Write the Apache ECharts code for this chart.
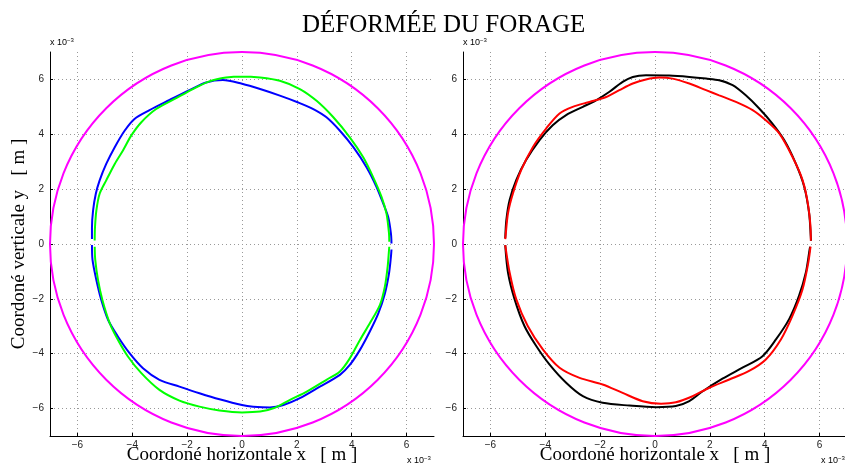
<!DOCTYPE html>
<html>
<head>
<meta charset="utf-8">
<script src="https://cdn.jsdelivr.net/npm/echarts@6/dist/echarts.min.js"></script>
<style>
  html, body { margin: 0; padding: 0; background: #fff; }
  #chart { width: 845px; height: 468px; }
</style>
</head>
<body>
<div id="chart"></div>
<script>
// values are in units of 1e-3 m
const tickValues = [-6, -4, -2, 0, 2, 4, 6]
const boreRadius = 7

// left panel
const blueUpper = [
  [5.45, 0.02], [5.43, 0.38], [5.33, 0.98], [5.15, 1.47], [4.91, 2.07], [4.54, 2.8],
  [4.06, 3.53], [3.57, 4.13], [3.08, 4.62], [2.6, 4.92], [2.05, 5.16], [1.38, 5.41],
  [0.66, 5.65], [0.0, 5.84], [-0.7, 5.98], [-1.31, 5.89], [-1.92, 5.61], [-2.64, 5.25],
  [-3.37, 4.88], [-3.92, 4.56], [-4.28, 4.13], [-4.64, 3.53], [-4.95, 2.92], [-5.19, 2.32],
  [-5.33, 1.83], [-5.43, 1.22], [-5.47, 0.6], [-5.47, 0.18]
]
const blueLower = [
  [-5.47, -0.04], [-5.45, -0.58], [-5.31, -1.31], [-5.13, -2.04], [-4.88, -2.77], [-4.52, -3.38],
  [-4.1, -3.98], [-3.61, -4.53], [-3.01, -4.95], [-2.28, -5.2], [-1.55, -5.44], [-0.82, -5.66],
  [0.0, -5.87], [0.41, -5.93], [1.02, -5.96], [1.51, -5.87], [2.11, -5.62], [2.84, -5.2],
  [3.57, -4.77], [3.93, -4.41], [4.3, -3.86], [4.66, -3.19], [4.97, -2.53], [5.21, -1.8],
  [5.36, -1.07], [5.43, -0.46], [5.45, -0.2]
]
const greenUpper = [
  [5.37, 0.08], [5.36, 0.38], [5.27, 1.1], [5.09, 1.71], [4.78, 2.44], [4.42, 3.16],
  [3.93, 3.89], [3.33, 4.62], [2.72, 5.22], [2.11, 5.65], [1.38, 5.95], [0.66, 6.07],
  [0.0, 6.11], [-0.58, 6.07], [-1.19, 5.93], [-1.79, 5.65], [-2.4, 5.32], [-3.13, 4.92],
  [-3.67, 4.44], [-4.04, 3.95], [-4.34, 3.41], [-4.64, 2.92], [-4.95, 2.32], [-5.19, 1.83],
  [-5.31, 1.22], [-5.36, 0.6], [-5.37, 0.13]
]
const greenLower = [
  [-5.37, -0.1], [-5.35, -0.58], [-5.25, -1.31], [-5.09, -2.04], [-4.82, -2.89], [-4.52, -3.5],
  [-4.16, -4.1], [-3.67, -4.71], [-3.01, -5.32], [-2.28, -5.71], [-1.55, -5.93], [-0.82, -6.07],
  [0.0, -6.14], [0.66, -6.11], [1.14, -5.99], [1.75, -5.68], [2.36, -5.38], [3.08, -4.95],
  [3.57, -4.65], [3.93, -4.17], [4.3, -3.5], [4.66, -2.89], [5.03, -2.22], [5.21, -1.55],
  [5.31, -0.83], [5.36, -0.22], [5.37, -0.1]
]

// right panel
const blackUpper = [
  [5.69, 0.12], [5.68, 0.27], [5.62, 1.12], [5.44, 2.09], [5.13, 2.94], [4.71, 3.79],
  [4.28, 4.39], [3.8, 4.94], [3.31, 5.42], [2.83, 5.79], [2.34, 5.97], [1.86, 6.03],
  [1.25, 6.09], [0.52, 6.14], [-0.33, 6.15], [-0.81, 6.09], [-1.18, 5.91], [-1.66, 5.55],
  [-2.15, 5.24], [-2.63, 5.0], [-3.24, 4.7], [-3.73, 4.33], [-4.21, 3.79], [-4.7, 3.06],
  [-5.06, 2.33], [-5.3, 1.6], [-5.42, 0.87], [-5.46, 0.21]
]
const blackLower = [
  [-5.46, -0.04], [-5.36, -1.04], [-5.12, -2.01], [-4.76, -2.99], [-4.33, -3.72], [-3.85, -4.39],
  [-3.24, -5.06], [-2.63, -5.55], [-1.91, -5.79], [-0.93, -5.89], [0.04, -5.95], [0.76, -5.91],
  [1.25, -5.73], [1.74, -5.37], [2.46, -4.91], [3.19, -4.51], [3.92, -4.09], [4.41, -3.48],
  [4.89, -2.74], [5.25, -1.89], [5.5, -1.04], [5.64, -0.18], [5.66, -0.1]
]
const redUpper = [
  [5.68, 0.12], [5.68, 0.27], [5.59, 1.36], [5.38, 2.33], [5.01, 3.18], [4.53, 4.03],
  [4.04, 4.51], [3.56, 4.88], [2.95, 5.18], [2.34, 5.42], [1.86, 5.61], [1.25, 5.85],
  [0.64, 6.03], [0.16, 6.07], [-0.33, 6.0], [-0.81, 5.85], [-1.3, 5.61], [-1.78, 5.36],
  [-2.39, 5.18], [-3.0, 5.0], [-3.48, 4.76], [-3.97, 4.21], [-4.45, 3.54], [-4.88, 2.69],
  [-5.18, 1.84], [-5.36, 1.12], [-5.45, 0.27], [-5.46, 0.18]
]
const redLower = [
  [-5.46, -0.04], [-5.3, -1.04], [-5.06, -2.01], [-4.64, -2.99], [-4.09, -3.84], [-3.48, -4.51],
  [-2.75, -4.88], [-1.91, -5.12], [-1.18, -5.43], [-0.45, -5.73], [0.22, -5.82], [0.76, -5.77],
  [1.37, -5.55], [1.98, -5.24], [2.71, -4.94], [3.43, -4.63], [4.04, -4.21], [4.59, -3.48],
  [5.01, -2.62], [5.38, -1.65], [5.59, -0.67], [5.67, -0.1]
]

const chart = echarts.init(document.getElementById('chart'))

const tickFormatter = v => (v < 0 ? '\u2212' + (-v) : String(v))

function xAxisFor(gridIndex, name) {
  return {
    type: 'value',
    gridIndex,
    min: -boreRadius,
    max: boreRadius,
    name,
    nameLocation: 'middle',
    nameGap: 10,
    nameMoveOverlap: false,
    nameTextStyle: { fontFamily: 'Liberation Serif', fontSize: 19, color: '#000' },
    axisLine: { show: true, onZero: false, lineStyle: { color: '#000', width: 1 } },
    axisTick: { show: true, inside: true, length: 3, customValues: tickValues, lineStyle: { color: '#000' } },
    axisLabel: { customValues: tickValues, formatter: tickFormatter, color: '#222', fontSize: 10, fontFamily: 'Liberation Sans', margin: 4 },
    splitLine: { show: true, lineStyle: { color: '#999', width: 1, type: [1, 3] } }
  }
}

function yAxisFor(gridIndex, name) {
  return {
    type: 'value',
    gridIndex,
    min: -boreRadius,
    max: boreRadius,
    name,
    nameLocation: 'middle',
    nameGap: 21,
    nameRotate: 90,
    nameMoveOverlap: false,
    nameTextStyle: { fontFamily: 'Liberation Serif', fontSize: 19, color: '#000' },
    axisLine: { show: true, onZero: false, lineStyle: { color: '#000', width: 1 } },
    axisTick: { show: true, inside: true, length: 3, customValues: tickValues, lineStyle: { color: '#000' } },
    axisLabel: { customValues: tickValues, formatter: tickFormatter, color: '#222', fontSize: 10, fontFamily: 'Liberation Sans', margin: 6 },
    splitLine: { show: true, lineStyle: { color: '#999', width: 1, type: [1, 3] } }
  }
}

function circleSeries(idx) {
  return {
    type: 'custom',
    xAxisIndex: idx,
    yAxisIndex: idx,
    data: [[0, 0, boreRadius]],
    silent: true,
    renderItem: (params, api) => {
      const c = api.coord([api.value(0), api.value(1)])
      const r = api.size([api.value(2), 0])[0]
      return {
        type: 'circle',
        shape: { cx: c[0], cy: c[1], r },
        style: { fill: 'none', stroke: '#ff00ff', lineWidth: 2 }
      }
    }
  }
}

function curve(idx, data, color) {
  return {
    type: 'line',
    xAxisIndex: idx,
    yAxisIndex: idx,
    data,
    showSymbol: false,
    smooth: 0.3,
    silent: true,
    lineStyle: { color, width: 2 },
    z: 3
  }
}

const expo = (left, top) => ({
  type: 'text',
  left,
  top,
  style: {
    text: '{b|x 10}{s|\u22123}',
    rich: {
      b: { fontFamily: 'Liberation Sans', fontSize: 9, color: '#222' },
      s: { fontFamily: 'Liberation Sans', fontSize: 6, color: '#222', verticalAlign: 'top', padding: [0, 0, 5, 0] }
    }
  }
})

chart.setOption({
  animation: false,
  title: {
    text: 'DÉFORMÉE DU FORAGE',
    left: 297,
    top: 8,
    textStyle: { fontFamily: 'Liberation Serif', fontSize: 25, fontWeight: 'normal', color: '#000' }
  },
  grid: [
    { left: 50, top: 52, width: 384, height: 384, outerBoundsMode: 'none', containLabel: false },
    { left: 463, top: 52, width: 384, height: 384, outerBoundsMode: 'none', containLabel: false }
  ],
  xAxis: [
    xAxisFor(0, 'Coordoné horizontale x   [ m ]'),
    xAxisFor(1, 'Coordoné horizontale x   [ m ]')
  ],
  yAxis: [
    yAxisFor(0, 'Coordoné verticale y   [ m ]'),
    yAxisFor(1, '')
  ],
  graphic: [
    expo(50, 37),
    expo(463, 37),
    expo(407, 455),
    expo(821, 455)
  ],
  series: [
    circleSeries(0),
    curve(0, blueUpper, '#0000ff'),
    curve(0, blueLower, '#0000ff'),
    curve(0, greenUpper, '#00ff00'),
    curve(0, greenLower, '#00ff00'),
    circleSeries(1),
    curve(1, blackUpper, '#000000'),
    curve(1, blackLower, '#000000'),
    curve(1, redUpper, '#ff0000'),
    curve(1, redLower, '#ff0000')
  ]
})
</script>
</body>
</html>
